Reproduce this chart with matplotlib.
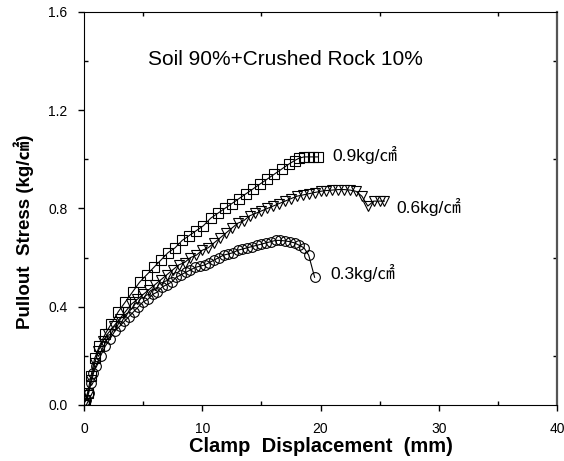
import matplotlib
matplotlib.use("Agg")
import matplotlib.pyplot as plt
from matplotlib.ticker import MultipleLocator, FormatStrFormatter

plt.rcParams["font.family"] = ["Liberation Sans", "Noto Sans CJK SC", "DejaVu Sans"]

# 0.9 kg/cm2 normal stress
disp_09 = [0, 0.1, 0.3, 0.6, 0.9, 1.3, 1.8, 2.3, 2.9, 3.5, 4.1, 4.7, 5.3, 5.9, 6.5, 7.1,
           7.7, 8.3, 8.9, 9.5, 10.1, 10.7, 11.3, 11.9, 12.5, 13.1, 13.7, 14.3, 14.9,
           15.5, 16.1, 16.7, 17.3, 17.8, 18.2, 18.6, 19.0, 19.4, 19.8]
stress_09 = [0.0, 0.02, 0.05, 0.12, 0.19, 0.24, 0.29, 0.33, 0.38, 0.42, 0.46, 0.50, 0.53,
             0.56, 0.59, 0.62, 0.64, 0.67, 0.69, 0.71, 0.73, 0.76, 0.78, 0.80, 0.82, 0.84,
             0.86, 0.88, 0.90, 0.92, 0.94, 0.96, 0.98, 0.995, 1.005, 1.01, 1.01, 1.01, 1.01]

# 0.6 kg/cm2 normal stress
disp_06 = [0, 0.3, 0.6, 0.9, 1.2, 1.6, 2.0, 2.5, 3.0, 3.5, 4.0, 4.5, 5.0, 5.5, 6.0, 6.5,
           7.0, 7.5, 8.0, 8.5, 9.0, 9.5, 10.0, 10.5, 11.0, 11.5, 12.0, 12.5, 13.0, 13.5,
           14.0, 14.5, 15.0, 15.5, 16.0, 16.5, 17.0, 17.5, 18.0, 18.5, 19.0, 19.5, 20.0,
           20.5, 21.0, 21.5, 22.0, 22.5, 23.0, 23.5, 24.0, 24.5, 25.0, 25.4]
stress_06 = [0.01, 0.04, 0.10, 0.17, 0.22, 0.26, 0.29, 0.32, 0.35, 0.38, 0.41, 0.43, 0.45,
             0.47, 0.49, 0.51, 0.53, 0.55, 0.57, 0.58, 0.60, 0.61, 0.63, 0.64, 0.66, 0.68,
             0.70, 0.72, 0.74, 0.75, 0.77, 0.78, 0.79, 0.80, 0.81, 0.82, 0.83, 0.84, 0.85,
             0.855, 0.86, 0.865, 0.87, 0.873, 0.875, 0.877, 0.877, 0.875, 0.87, 0.85, 0.81,
             0.83, 0.83, 0.83]

# 0.3 kg/cm2 normal stress
disp_03 = [0, 0.2, 0.4, 0.6, 0.8, 1.0, 1.4, 1.8, 2.2, 2.6, 3.0, 3.4, 3.8, 4.2, 4.6, 5.0,
           5.4, 5.8, 6.2, 6.6, 7.0, 7.4, 7.8, 8.2, 8.6, 9.0, 9.4, 9.8, 10.2, 10.6, 11.0,
           11.4, 11.8, 12.2, 12.6, 13.0, 13.4, 13.8, 14.2, 14.6, 15.0, 15.4, 15.8, 16.2,
           16.6, 17.0, 17.4, 17.8, 18.2, 18.6, 19.0, 19.5]
stress_03 = [0.01, 0.02, 0.05, 0.09, 0.13, 0.16, 0.20, 0.24, 0.27, 0.30, 0.32, 0.34, 0.36,
             0.38, 0.40, 0.42, 0.43, 0.45, 0.46, 0.48, 0.49, 0.50, 0.52, 0.53, 0.54, 0.55,
             0.56, 0.565, 0.57, 0.58, 0.59, 0.60, 0.61, 0.615, 0.62, 0.63, 0.635, 0.64,
             0.645, 0.65, 0.655, 0.66, 0.665, 0.67, 0.67, 0.668, 0.665, 0.66, 0.65, 0.64,
             0.61, 0.52]

series = [
    (disp_09, stress_09, "s", "0.9kg/㎠", (21.0, 1.018)),
    (disp_06, stress_06, "v", "0.6kg/㎠", (26.4, 0.806)),
    (disp_03, stress_03, "o", "0.3kg/㎠", (20.8, 0.537)),
]

fig = plt.figure(figsize=(5.64, 4.61), dpi=100)
ax = fig.add_axes([0.149, 0.1215, 0.8386, 0.8525])

for x, y, marker, label, pos in series:
    ax.plot(x, y, color="black", linewidth=0.8, marker=marker, markersize=7,
            markerfacecolor="none", markeredgecolor="black", markeredgewidth=0.8)
    ax.text(pos[0], pos[1], label, fontsize=12.5, ha="left", va="center")

ax.text(5.4, 1.405, "Soil 90%+Crushed Rock 10%", fontsize=15, ha="left", va="center")

ax.set_xlim(0, 40)
ax.set_ylim(0, 1.6)
ax.xaxis.set_major_locator(MultipleLocator(10))
ax.xaxis.set_minor_locator(MultipleLocator(5))
ax.yaxis.set_major_locator(MultipleLocator(0.4))
ax.yaxis.set_minor_locator(MultipleLocator(0.2))
ax.yaxis.set_major_formatter(FormatStrFormatter("%.1f"))

ax.tick_params(which="major", direction="out", length=4, width=1, labelsize=10,
               top=False, right=False, pad=8)
ax.tick_params(which="minor", direction="in", length=3, width=1,
               top=True, right=True)
ax.spines["right"].set_color("#555555")
ax.spines["right"].set_linewidth(1.6)

ax.set_xlabel("Clamp  Displacement  (mm)", fontsize=14.5, fontweight="bold", labelpad=1)
ax.set_ylabel("Pullout  Stress (kg/㎠)", fontsize=13.5, fontweight="bold")
ax.yaxis.set_label_coords(-0.105, 0.44)

fig.savefig("out.png", dpi=100, facecolor="white")
